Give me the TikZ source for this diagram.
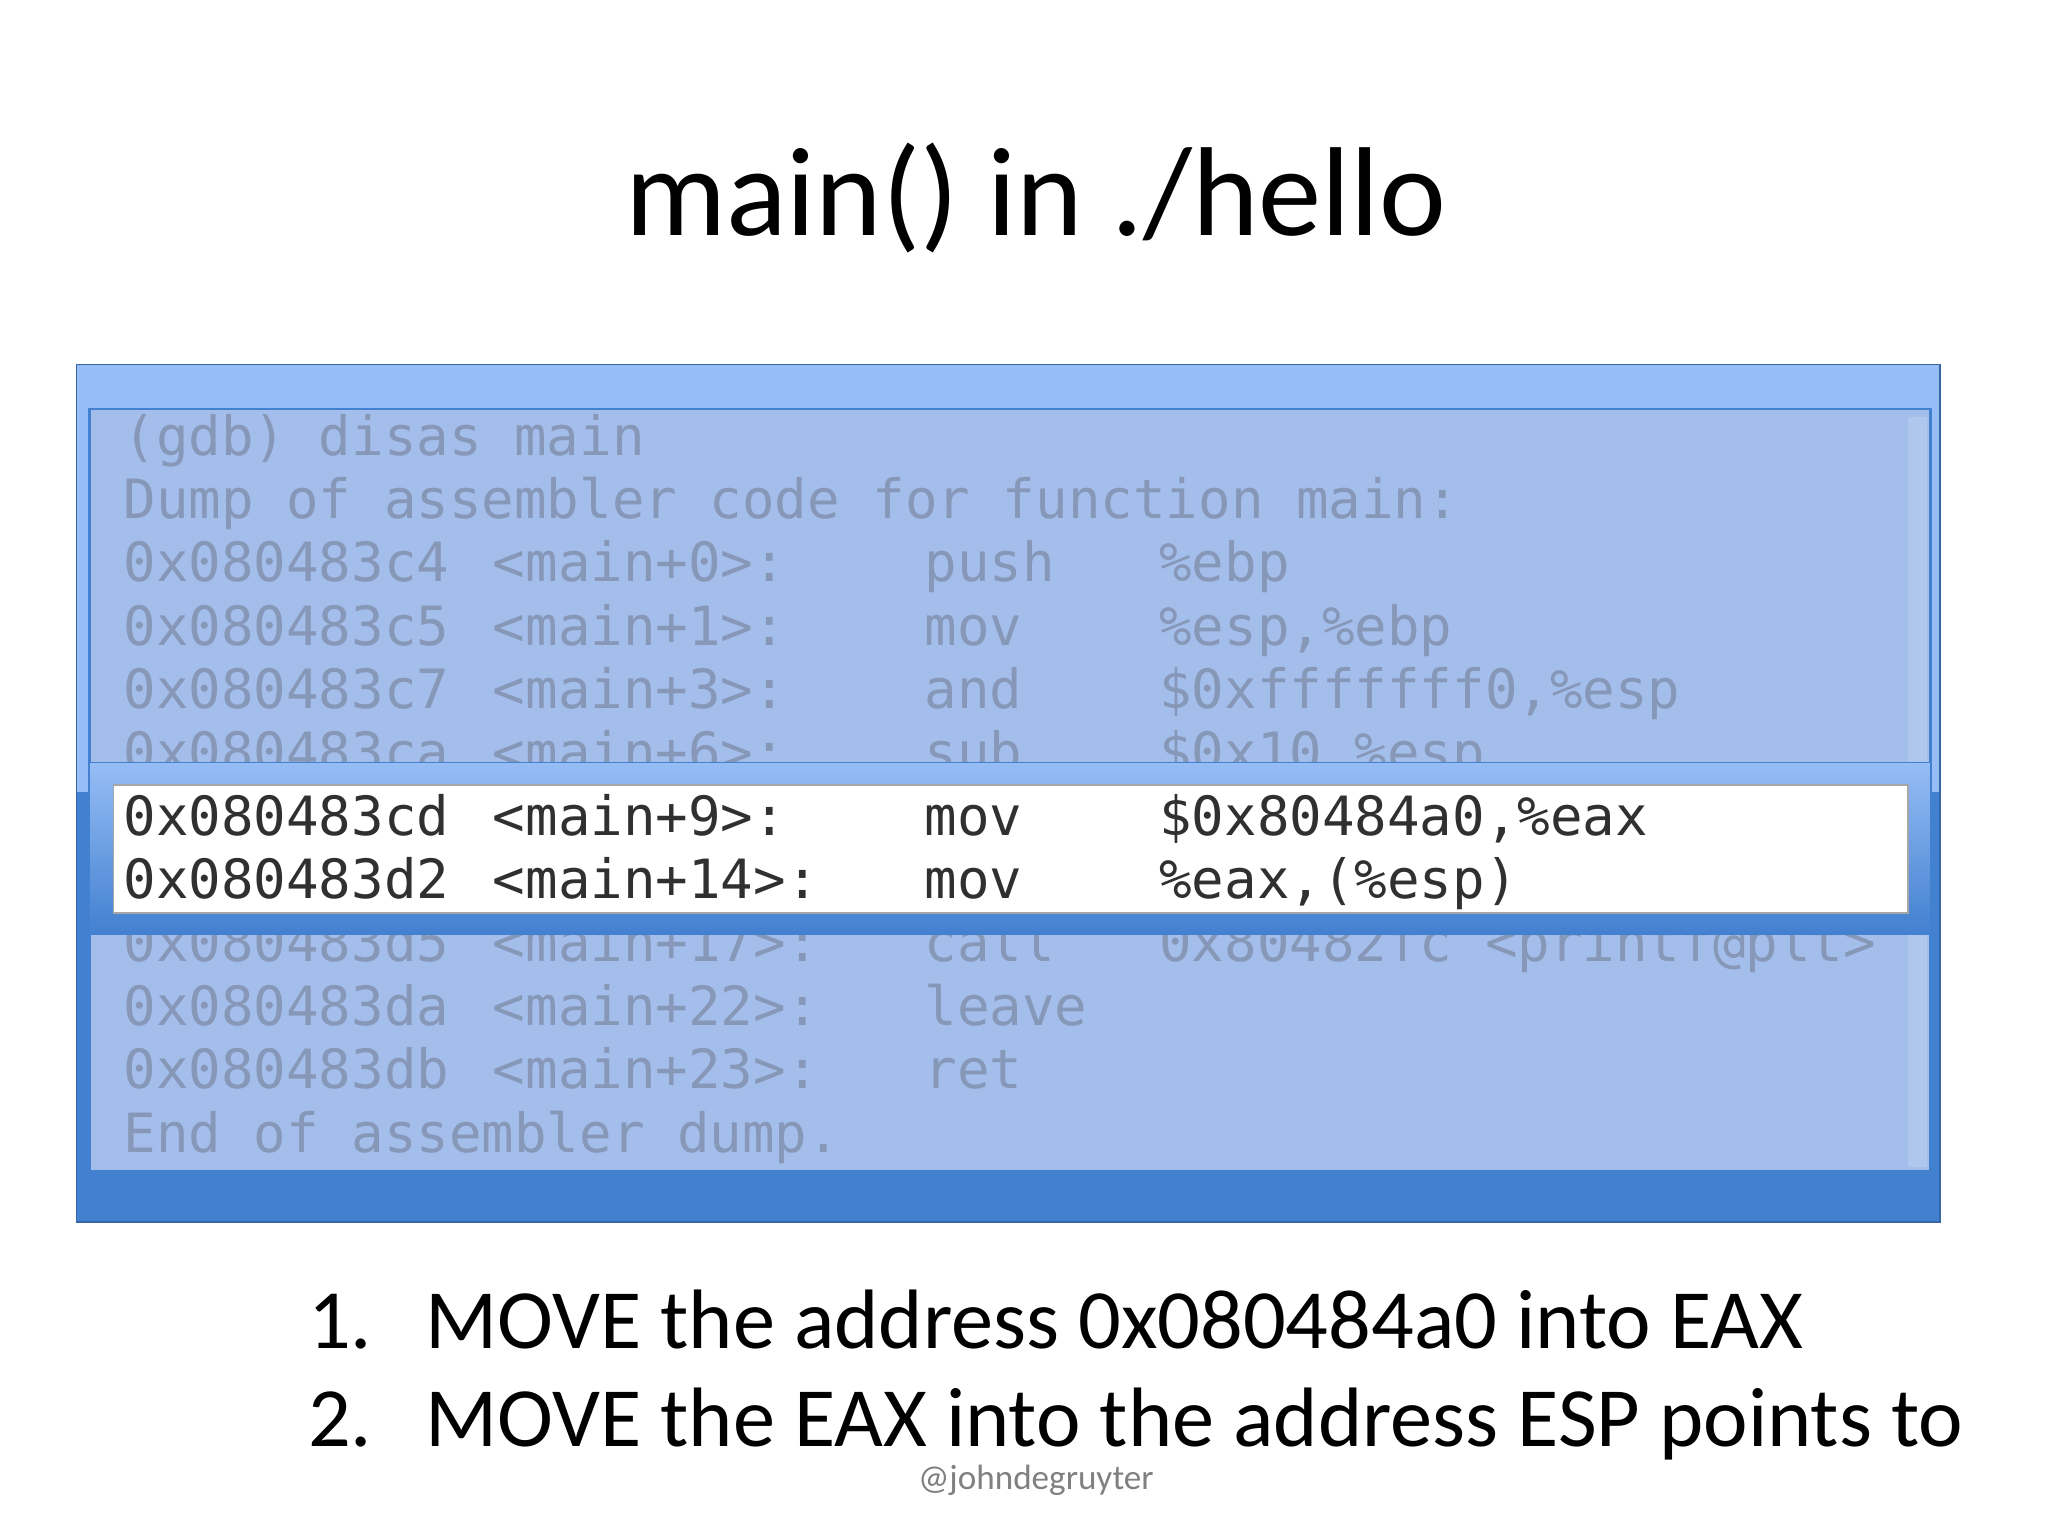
\documentclass[tikz,border=0pt]{standalone}
\usepackage{fontspec}
\setmainfont{Carlito}
\setmonofont{DejaVu Sans Mono}
\definecolor{frametop}{HTML}{96BDF5}
\definecolor{framebot}{HTML}{4280D0}
\definecolor{panel}{HTML}{A3BEEA}
\definecolor{fadetext}{HTML}{8797B8}
\definecolor{livetext}{HTML}{303030}
\tikzset{
  codeline/.style={anchor=base west, inner sep=0pt, font=\fontsize{15.4}{16}\selectfont\ttfamily},
  dimline/.style={codeline, text=fadetext},
  liveline/.style={codeline, text=livetext},
  stepitem/.style={anchor=base west, inner sep=0pt, font=\fontsize{24}{26}\selectfont}
}
\begin{document}
\begin{tikzpicture}[x=0.013196cm, y=-0.013196cm]
\useasboundingbox[fill=white] (0,0) rectangle (1552,1164);
% title
    \node[inner sep=0pt, font=\fontsize{36}{40}\selectfont] (title) at (785,150) {main() in ./hello};
% frame and panel
    \fill[frametop] (58,276) rectangle (1470,600);
    \fill[framebot] (58,600) rectangle (1470,926);
    \draw[framebot!80!black, thin] (58,276) rectangle (1470,926);
    \fill[panel] (68,310) rectangle (1463,888);
    \draw[framebot, thick] (68,310) rectangle (1463,888);
    \fill[white, opacity=0.15] (1446,316) rectangle (1460,884);
% faded listing
    \foreach \y/\ad/\fn/\op/\ar in {
        729/0x080483d5/{<main+17>:}/call/{0x80482fc <printf@plt>},
        777/0x080483da/{<main+22>:}/leave/{},
        825/0x080483db/{<main+23>:}/ret/{},
        441/0x080483c4/{<main+0>:}/push/{\%ebp},
        489/0x080483c5/{<main+1>:}/mov/{\%esp,\%ebp},
        537/0x080483c7/{<main+3>:}/and/{\$0xfffffff0,\%esp},
        585/0x080483ca/{<main+6>:}/sub/{\$0x10,\%esp}} {
      \node[dimline] at (93,\y) {\ad};
      \node[dimline] at (373,\y) {\fn};
      \node[dimline] at (700,\y) {\op};
      \node[dimline] at (878,\y) {\ar};
    }
    \node[dimline] (cmd) at (93,345) {(gdb) disas main};
    \node[dimline] (dump) at (93,393) {Dump of assembler code for function main:};
    \node[dimline] (enddump) at (93,873) {End of assembler dump.};
% highlight band
    \shade[top color=frametop, bottom color=framebot] (68,578) rectangle (1463,708);
    \draw[framebot, thin] (68,578) rectangle (1463,708);
    \fill[white] (86,595) rectangle (1446,692);
    \draw[gray!70, thin] (86,595) rectangle (1446,692);
    \node[liveline] (adA) at (93,633) {0x080483cd};
    \node[liveline] (fnA) at (373,633) {<main+9>:};
    \node[liveline] (opA) at (700,633) {mov};
    \node[liveline] (arA) at (878,633) {\$0x80484a0,\%eax};
    \node[liveline] (adB) at (93,681) {0x080483d2};
    \node[liveline] (fnB) at (373,681) {<main+14>:};
    \node[liveline] (opB) at (700,681) {mov};
    \node[liveline] (arB) at (878,681) {\%eax,(\%esp)};
% steps
    \node[stepitem] (numA) at (233,1022) {1.};
    \node[stepitem] (stepA) at (322,1022) {MOVE the address 0x080484a0 into EAX};
    \node[stepitem] (numB) at (233,1096) {2.};
    \node[stepitem] (stepB) at (322,1096) {MOVE the EAX into the address ESP points to};
    \node[inner sep=0pt, text=gray, font=\fontsize{10}{12}\selectfont] (credit) at (785,1122) {@johndegruyter};
\end{tikzpicture}
\end{document}
